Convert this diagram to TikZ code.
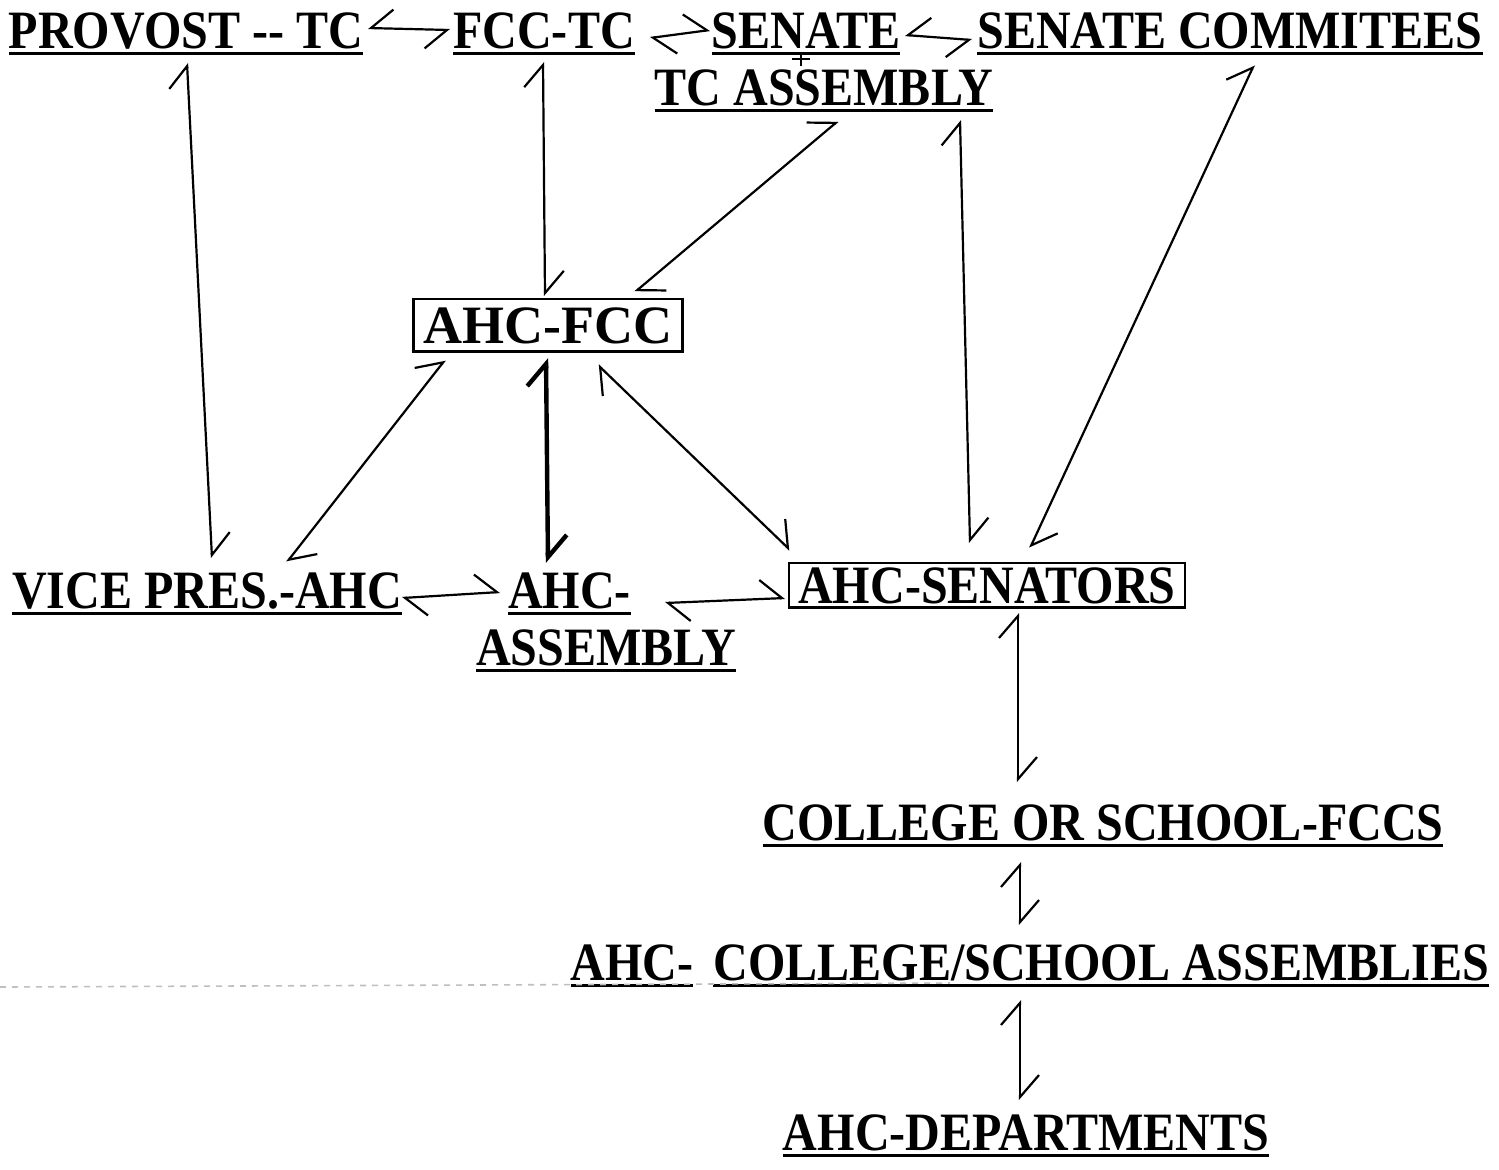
\documentclass[tikz,border=0pt]{standalone}
\usepackage{fontspec}
\setmainfont{Liberation Serif}[FakeStretch=0.89]
\newfontfamily\boxfont{Liberation Serif}
\usetikzlibrary{arrows.meta,calc}
\newcommand{\ulbar}[1]{\leavevmode\setbox0\hbox{#1}%
  \rlap{\vrule width\wd0 height -2.2pt depth 3.6pt}\box0}
\tikzset{
  barb/.tip    = {Straight Barb[harpoon,length=11pt,width=19pt]},
  lbl/.style   = {inner sep=2pt, anchor=base,
                  font=\fontsize{27}{28.5}\selectfont\bfseries},
  frm/.style   = {lbl, draw, line width=1.2pt, inner xsep=4.5pt},
  fl/.style    = {barb-barb, line width=1.1pt},
  flr/.style   = {{barb[swap]}-{barb[swap]}, line width=1.1pt},
}

\begin{document}
\begin{tikzpicture}[x=0.5pt, y=-0.5pt]
    \useasboundingbox (0,0) rectangle (1499,1169);
    % top row
    \node[lbl] (prov)  at (186,48)  {\ulbar{PROVOST {-}{-} TC}};
    \node[lbl] (fcctc) at (544,48)  {\ulbar{FCC-TC}};
    \node[lbl] (sen)   at (806,48)  {\ulbar{SENATE}};
    \node[lbl] (scom)  at (1230,48) {\ulbar{SENATE COMMITEES}};
    \node[lbl] (tca)   at (824,105) {\ulbar{TC ASSEMBLY}};
    % middle
    \node[frm, inner ysep=4pt, inner xsep=5pt] (afcc) at (548,343) {\boxfont AHC-FCC};
    \node[lbl] (vp)    at (207,608) {\ulbar{VICE PRES.-AHC}};
    \node[lbl, align=left] (aasm) at (606,665) {\hspace*{16pt}\ulbar{AHC-}\\\ulbar{ASSEMBLY}};
    \node[frm, inner ysep=2pt] (asen) at (987,603) {AHC-SENATORS};
    % lower chain
    \node[lbl] (csf)   at (1103,840) {\ulbar{COLLEGE OR SCHOOL-FCCS}};
    \node[lbl] (acsa)  at (1030,980) {\ulbar{AHC-}\hspace{4pt} \ulbar{COLLEGE/SCHOOL ASSEMBLIES}};
    \node[lbl] (adep)  at (1026,1150) {\ulbar{AHC-DEPARTMENTS}};
    % top row links
    \draw[flr] ($(prov.base)+(182,-20)$) -- ($(fcctc.base)+(-94,-18)$);
    \draw[fl]  ($(fcctc.base)+(106,-10)$) -- ($(sen.base)+(-96,-18)$);
    \draw[flr] ($(sen.base)+(99,-13)$) -- ($(scom.base)+(-258,-8)$);
    \draw[line width=1.2pt] ($(sen.base)+(-5,6)$) -- ($(sen.base)+(-5,18)$)
                            ($(sen.base)+(-14,11)$) -- ($(sen.base)+(4,11)$);
    % down to the middle
    \draw[fl] ($(prov.base)+(1,15)$) -- ($(vp.base)+(5,-50)$);
    \draw[fl] ($(fcctc.base)+(-1,14)$) -- ($(afcc.base)+(-3,-47)$);
    \draw[fl] ($(tca.base)+(14,16)$) -- ($(afcc.base)+(87,-51)$);
    \draw[fl] ($(tca.base)+(136,15)$) -- ($(asen.base)+(-17,-60)$);
    \draw[fl] ($(scom.base)+(24,17)$) -- ($(asen.base)+(43,-55)$);
    % around AHC-FCC
    \draw[fl] ($(afcc.base)+(-103,17)$) -- ($(vp.base)+(80,-46)$);
    \draw[fl, line width=2.2pt] ($(afcc.base)+(-2,15)$) -- ($(aasm.base)+(-58,-102)$);
    \draw[fl] ($(afcc.base)+(50,22)$) -- ($(asen.base)+(-197,-53)$);
    % middle row
    \draw[fl] ($(vp.base)+(195,-10)$) -- ($(aasm.base)+(-106,-73)$);
    \draw[fl] ($(aasm.base)+(59,-62)$) -- ($(asen.base)+(-202,-5)$);
    % lower chain
    \draw[fl] ($(asen.base)+(31,10)$) -- ($(csf.base)+(-85,-58)$);
    \draw[fl] ($(csf.base)+(-83,22)$) -- ($(acsa.base)+(-10,-55)$);
    \draw[fl] ($(acsa.base)+(-10,20)$) -- ($(adep.base)+(-6,-50)$);
    % scan streak
    \draw[black!25, dashed, line width=0.8pt] (0,987) -- (950,983);
\end{tikzpicture}
\end{document}
